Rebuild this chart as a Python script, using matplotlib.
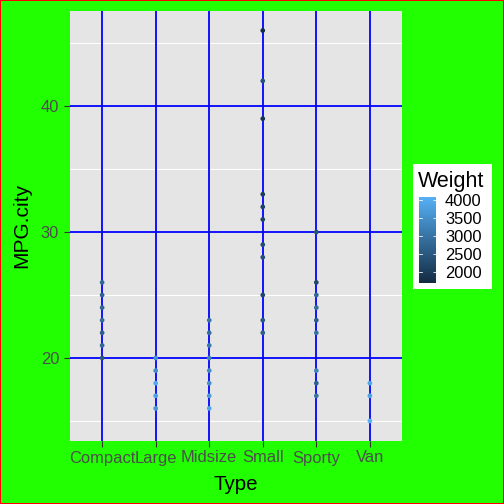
import matplotlib
matplotlib.use("Agg")
import matplotlib.pyplot as plt
import numpy as np
from matplotlib.colors import LinearSegmentedColormap, Normalize

plt.rcParams['font.family'] = ['Liberation Sans', 'DejaVu Sans']

categories = ["Compact", "Large", "Midsize", "Small", "Sporty", "Van"]

compact_mpg = [26, 25, 24, 23, 22, 21, 20]
compact_wt = [2800, 2700, 2750, 2850, 2650, 2800, 2500]
large_mpg = [20, 19, 18, 17, 16]
large_wt = [3500, 3450, 4000, 3800, 3600]
midsize_mpg = [23, 22, 21, 20, 19, 18, 17, 16]
midsize_wt = [3000, 2900, 3100, 3250, 3400, 3500, 3700, 3900]
small_mpg = [46, 42, 39, 33, 32, 31, 29, 28, 25, 23, 22]
small_wt = [1700, 2400, 1850, 2000, 2100, 2150, 2300, 2350, 2200, 2500, 2650]
sporty_mpg = [30, 26, 25, 24, 23, 22, 19, 18, 17]
sporty_wt = [2400, 2200, 2800, 2900, 2600, 3000, 3300, 2700, 3000]
van_mpg = [18, 17, 15]
van_wt = [3900, 3850, 4100]

groups = [(compact_mpg, compact_wt), (large_mpg, large_wt), (midsize_mpg, midsize_wt),
          (small_mpg, small_wt), (sporty_mpg, sporty_wt), (van_mpg, van_wt)]

wt_min, wt_max = 1695, 4105
cbar_ticks = [2000, 2500, 3000, 3500, 4000]
y_ticks = [20, 30, 40]

W, H = 504, 504
fig = plt.figure(figsize=(W / 72, H / 72), dpi=72)
green = '#22FF00'
fig.patch.set_facecolor(green)
fig.patch.set_edgecolor('red')
fig.patch.set_linewidth(2)

def px(x0, y0, x1, y1):
    return [x0 / W, 1 - y1 / H, (x1 - x0) / W, (y1 - y0) / H]

ax = fig.add_axes(px(70, 11, 402, 440.5))
ax.set_facecolor('#E5E5E5')
cmap = LinearSegmentedColormap.from_list('gg', ['#132B43', '#56B1F7'])
norm = Normalize(wt_min, wt_max)

xs, ys, cs = [], [], []
for i, (m, w) in enumerate(groups):
    xs += [i + 1] * len(m)
    ys += m
    cs += w
sc = ax.scatter(xs, ys, c=cs, cmap=cmap, norm=norm, s=22, linewidths=0, zorder=3)

ymin, ymax = min(ys), max(ys)
pad = (ymax - ymin) * 0.05
ax.set_ylim(ymin - pad, ymax + pad)
ax.set_xlim(0.4, 6.6)

for v in [15, 25, 35, 45]:
    ax.axhline(v, color='white', lw=1.0, zorder=1)
for v in y_ticks:
    ax.axhline(v, color='#0000FF', lw=1.8, zorder=2)
for i in range(len(categories)):
    ax.axvline(i + 1, color='#0000FF', lw=1.8, zorder=2)

ax.set_xticks(range(1, len(categories) + 1))
ax.set_xticklabels(categories)
ax.set_yticks(y_ticks)
for s in ax.spines.values():
    s.set_visible(False)
ax.tick_params(axis='both', colors='#333333', labelcolor='#4D4D4D', labelsize=16.5,
               length=6, width=1.1)
ax.tick_params(axis='x', pad=4)
ax.tick_params(axis='y', pad=5)
ax.set_xlabel('Type', fontsize=20.5, color='black', labelpad=9)
ax.set_ylabel('MPG.city', fontsize=21, color='black', labelpad=9)

# legend
lg = fig.add_axes(px(413, 164, 492, 288.5))
lg.set_facecolor('white')
lg.set_xticks([]); lg.set_yticks([])
for s in lg.spines.values():
    s.set_visible(False)
fig.text(418 / W, 1 - 182 / H, 'Weight', fontsize=21.5, va='center', ha='left')
cax = fig.add_axes(px(418.5, 196.5, 436, 283))
cb = fig.colorbar(sc, cax=cax, ticks=cbar_ticks)
cb.outline.set_visible(False)
cax.tick_params(axis='y', direction='in', colors='white', length=3.5, width=0.8,
                labelcolor='black', labelsize=16.5, pad=9)
for t in cax.get_yticklabels():
    t.set_color('black')
for v in cbar_ticks:
    cax.plot([0, 0.2], [v, v], color='white', lw=0.8, transform=cax.get_yaxis_transform())

fig.savefig('out.png', dpi=72, facecolor=fig.get_facecolor(), edgecolor='red')
